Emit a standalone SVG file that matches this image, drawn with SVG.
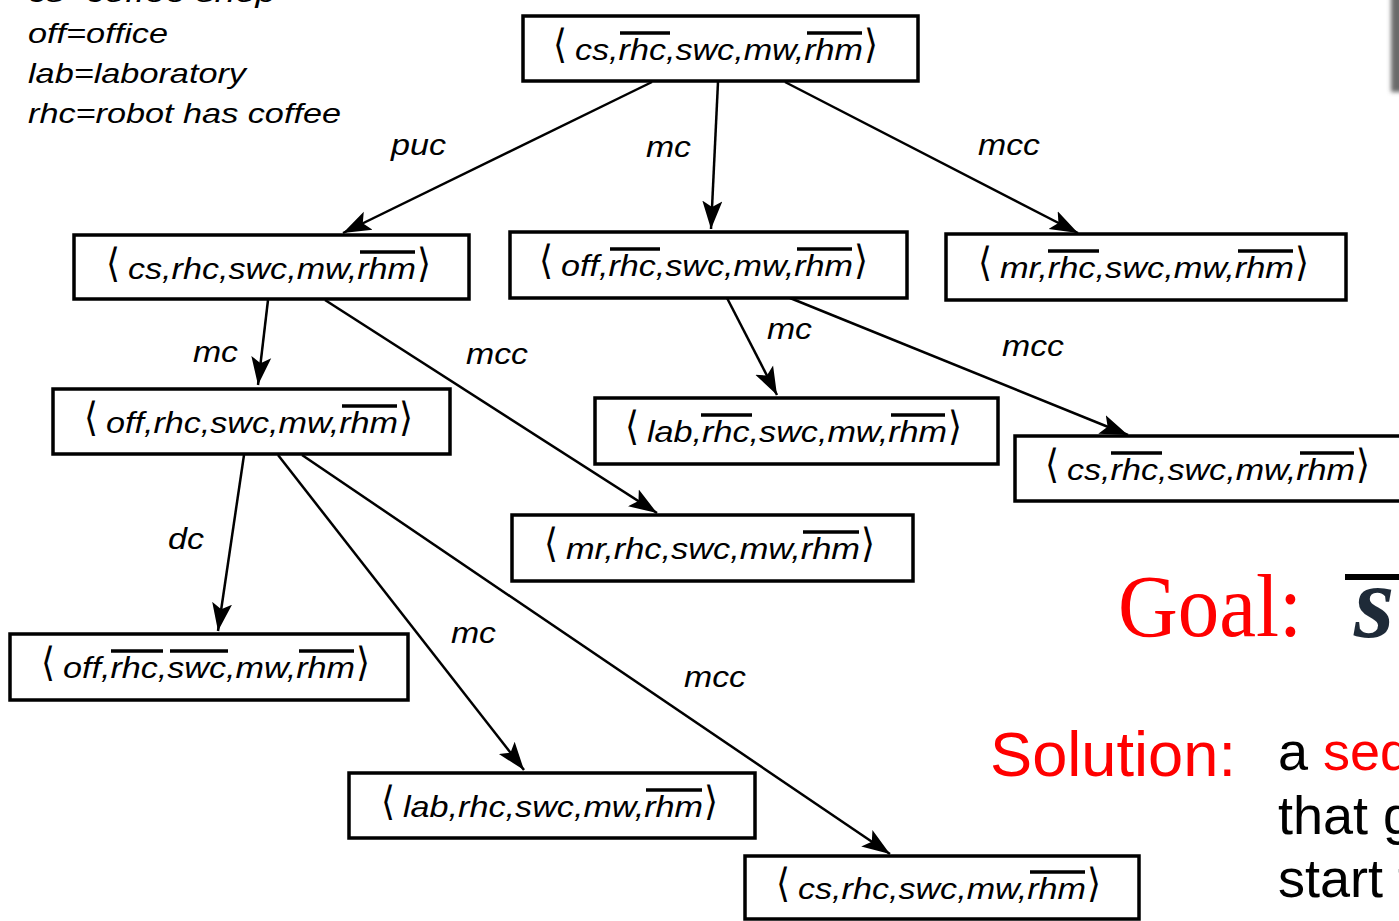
<svg xmlns="http://www.w3.org/2000/svg" width="1399" height="921" viewBox="0 0 1399 921">
  <style>
    .box { fill: #fff; stroke: #000; stroke-width: 3.5; }
    .st { font-family: "Liberation Sans", Arial, sans-serif; font-style: italic; font-size: 30px; fill: #000; }
    .br { font-family: "DejaVu Sans", sans-serif; font-size: 40px; fill: #000; }
    .bar { stroke: #000; stroke-width: 3.5; }
    .edge { stroke: #000; stroke-width: 2.5; fill: none; marker-end: url(#ah); }
    .act { font-family: "Liberation Sans", Arial, sans-serif; font-style: italic; font-size: 30px; fill: #000; }
    .key { font-family: "Liberation Sans", Arial, sans-serif; font-style: italic; font-size: 28px; fill: #000; }
    .note { font-family: "Liberation Sans", Arial, sans-serif; font-size: 54px; fill: #000; }
    .red { fill: #ff0000; }
  </style>
  <defs>
    <marker id="ah" markerUnits="userSpaceOnUse" markerWidth="28" markerHeight="22" refX="28" refY="11" orient="auto">
      <path d="M0,1 L28,11 L0,21 L6,11 z" fill="#000"/>
    </marker>
    <filter id="soft" x="-50%" y="-20%" width="200%" height="140%">
      <feGaussianBlur stdDeviation="2"/>
    </filter>
  </defs>

  <rect width="1399" height="921" fill="#fff"/>

  <!-- abbreviations -->
  <g id="legend">
    <text class="key" x="28" y="2" textLength="248" lengthAdjust="spacingAndGlyphs">cs=coffee shop</text>
    <text class="key" x="28" y="43" textLength="140" lengthAdjust="spacingAndGlyphs">off=office</text>
    <text class="key" x="28" y="83" textLength="218" lengthAdjust="spacingAndGlyphs">lab=laboratory</text>
    <text class="key" x="28" y="123" textLength="313" lengthAdjust="spacingAndGlyphs">rhc=robot has coffee</text>
  </g>

  <!-- search tree edges -->
  <g id="connectors">
    <line class="edge" x1="652" y1="82" x2="343" y2="233"/>
    <line class="edge" x1="718" y1="82" x2="711" y2="229"/>
    <line class="edge" x1="785" y1="82" x2="1078" y2="233"/>
    <line class="edge" x1="268" y1="300" x2="258" y2="385"/>
    <line class="edge" x1="325" y1="300" x2="657" y2="513"/>
    <line class="edge" x1="727" y1="298" x2="777" y2="395"/>
    <line class="edge" x1="790" y1="298" x2="1128" y2="435"/>
    <line class="edge" x1="244" y1="455" x2="218" y2="631"/>
    <line class="edge" x1="278" y1="455" x2="524" y2="770"/>
    <line class="edge" x1="302" y1="455" x2="890" y2="854"/>
    <text class="act" x="391" y="155" textLength="55" lengthAdjust="spacingAndGlyphs">puc</text>
    <text class="act" x="646" y="157" textLength="45" lengthAdjust="spacingAndGlyphs">mc</text>
    <text class="act" x="978" y="155" textLength="62" lengthAdjust="spacingAndGlyphs">mcc</text>
    <text class="act" x="193" y="362" textLength="45" lengthAdjust="spacingAndGlyphs">mc</text>
    <text class="act" x="466" y="364" textLength="62" lengthAdjust="spacingAndGlyphs">mcc</text>
    <text class="act" x="767" y="339" textLength="45" lengthAdjust="spacingAndGlyphs">mc</text>
    <text class="act" x="1002" y="356" textLength="62" lengthAdjust="spacingAndGlyphs">mcc</text>
    <text class="act" x="168" y="549" textLength="36" lengthAdjust="spacingAndGlyphs">dc</text>
    <text class="act" x="451" y="643" textLength="45" lengthAdjust="spacingAndGlyphs">mc</text>
    <text class="act" x="684" y="687" textLength="62" lengthAdjust="spacingAndGlyphs">mcc</text>
  </g>

  <!-- states -->
  <g id="s-root">
    <rect class="box" x="523" y="16" width="395" height="65"/>
    <text class="br" x="553" y="58" textLength="14" lengthAdjust="spacingAndGlyphs">⟨</text>
    <text class="st" x="575" y="60" textLength="288" lengthAdjust="spacingAndGlyphs">cs,rhc,swc,mw,rhm</text>
    <text class="br" x="864" y="58" textLength="14" lengthAdjust="spacingAndGlyphs">⟩</text>
    <line class="bar" x1="620" y1="33" x2="670" y2="33"/>
    <line class="bar" x1="807" y1="33" x2="862" y2="33"/>
  </g>

  <g id="s-cs-rhc">
    <rect class="box" x="74" y="235" width="395" height="64"/>
    <text class="br" x="106" y="277" textLength="14" lengthAdjust="spacingAndGlyphs">⟨</text>
    <text class="st" x="128" y="279" textLength="288" lengthAdjust="spacingAndGlyphs">cs,rhc,swc,mw,rhm</text>
    <text class="br" x="417" y="277" textLength="14" lengthAdjust="spacingAndGlyphs">⟩</text>
    <line class="bar" x1="360" y1="252" x2="415" y2="252"/>
  </g>

  <g id="s-off">
    <rect class="box" x="510" y="232" width="397" height="66"/>
    <text class="br" x="539" y="274" textLength="14" lengthAdjust="spacingAndGlyphs">⟨</text>
    <text class="st" x="561" y="276" textLength="292" lengthAdjust="spacingAndGlyphs">off,rhc,swc,mw,rhm</text>
    <text class="br" x="854" y="274" textLength="14" lengthAdjust="spacingAndGlyphs">⟩</text>
    <line class="bar" x1="610" y1="249" x2="660" y2="249"/>
    <line class="bar" x1="797" y1="249" x2="852" y2="249"/>
  </g>

  <g id="s-mr">
    <rect class="box" x="946" y="234" width="400" height="66"/>
    <text class="br" x="978" y="276" textLength="14" lengthAdjust="spacingAndGlyphs">⟨</text>
    <text class="st" x="1000" y="278" textLength="294" lengthAdjust="spacingAndGlyphs">mr,rhc,swc,mw,rhm</text>
    <text class="br" x="1295" y="276" textLength="14" lengthAdjust="spacingAndGlyphs">⟩</text>
    <line class="bar" x1="1048" y1="251" x2="1099" y2="251"/>
    <line class="bar" x1="1238" y1="251" x2="1293" y2="251"/>
  </g>

  <g id="s-off-rhc">
    <rect class="box" x="53" y="389" width="397" height="65"/>
    <text class="br" x="84" y="431" textLength="14" lengthAdjust="spacingAndGlyphs">⟨</text>
    <text class="st" x="106" y="433" textLength="292" lengthAdjust="spacingAndGlyphs">off,rhc,swc,mw,rhm</text>
    <text class="br" x="399" y="431" textLength="14" lengthAdjust="spacingAndGlyphs">⟩</text>
    <line class="bar" x1="342" y1="406" x2="397" y2="406"/>
  </g>

  <g id="s-lab">
    <rect class="box" x="595" y="398" width="403" height="66"/>
    <text class="br" x="625" y="440" textLength="14" lengthAdjust="spacingAndGlyphs">⟨</text>
    <text class="st" x="647" y="442" textLength="300" lengthAdjust="spacingAndGlyphs">lab,rhc,swc,mw,rhm</text>
    <text class="br" x="948" y="440" textLength="14" lengthAdjust="spacingAndGlyphs">⟩</text>
    <line class="bar" x1="701" y1="415" x2="752" y2="415"/>
    <line class="bar" x1="891" y1="415" x2="945" y2="415"/>
  </g>

  <g id="s-cs">
    <rect class="box" x="1015" y="436" width="400" height="65"/>
    <text class="br" x="1045" y="478" textLength="14" lengthAdjust="spacingAndGlyphs">⟨</text>
    <text class="st" x="1067" y="480" textLength="288" lengthAdjust="spacingAndGlyphs">cs,rhc,swc,mw,rhm</text>
    <text class="br" x="1356" y="478" textLength="14" lengthAdjust="spacingAndGlyphs">⟩</text>
    <line class="bar" x1="1111" y1="453" x2="1162" y2="453"/>
    <line class="bar" x1="1300" y1="453" x2="1354" y2="453"/>
  </g>

  <g id="s-mr-rhc">
    <rect class="box" x="512" y="515" width="401" height="66"/>
    <text class="br" x="544" y="557" textLength="14" lengthAdjust="spacingAndGlyphs">⟨</text>
    <text class="st" x="566" y="559" textLength="294" lengthAdjust="spacingAndGlyphs">mr,rhc,swc,mw,rhm</text>
    <text class="br" x="861" y="557" textLength="14" lengthAdjust="spacingAndGlyphs">⟩</text>
    <line class="bar" x1="803" y1="532" x2="859" y2="532"/>
  </g>

  <g id="s-off-dc">
    <rect class="box" x="10" y="634" width="398" height="66"/>
    <text class="br" x="41" y="676" textLength="14" lengthAdjust="spacingAndGlyphs">⟨</text>
    <text class="st" x="63" y="678" textLength="292" lengthAdjust="spacingAndGlyphs">off,rhc,swc,mw,rhm</text>
    <text class="br" x="356" y="676" textLength="14" lengthAdjust="spacingAndGlyphs">⟩</text>
    <line class="bar" x1="111" y1="651" x2="163" y2="651"/>
    <line class="bar" x1="170" y1="651" x2="228" y2="651"/>
    <line class="bar" x1="299" y1="651" x2="354" y2="651"/>
  </g>

  <g id="s-lab-rhc">
    <rect class="box" x="349" y="773" width="406" height="65"/>
    <text class="br" x="381" y="815" textLength="14" lengthAdjust="spacingAndGlyphs">⟨</text>
    <text class="st" x="403" y="817" textLength="300" lengthAdjust="spacingAndGlyphs">lab,rhc,swc,mw,rhm</text>
    <text class="br" x="704" y="815" textLength="14" lengthAdjust="spacingAndGlyphs">⟩</text>
    <line class="bar" x1="646" y1="790" x2="702" y2="790"/>
  </g>

  <g id="s-cs-rhc-2">
    <rect class="box" x="745" y="856" width="394" height="63"/>
    <text class="br" x="776" y="897" textLength="14" lengthAdjust="spacingAndGlyphs">⟨</text>
    <text class="st" x="798" y="899" textLength="288" lengthAdjust="spacingAndGlyphs">cs,rhc,swc,mw,rhm</text>
    <text class="br" x="1087" y="897" textLength="14" lengthAdjust="spacingAndGlyphs">⟩</text>
    <line class="bar" x1="1030" y1="872" x2="1085" y2="872"/>
  </g>

  <!-- goal and solution notes -->
  <g id="goal">
    <text x="1118" y="636" font-family="'Liberation Serif', 'Times New Roman', serif" font-size="88" fill="#ff0000" textLength="184" lengthAdjust="spacingAndGlyphs">Goal:</text>
    <line x1="1345" y1="577" x2="1399" y2="577" stroke="#000" stroke-width="6"/>
    <text x="1354" y="637" font-family="'Liberation Serif', 'Times New Roman', serif" font-style="italic" font-weight="bold" font-size="104" fill="#1e2a38">s</text>
  </g>

  <g id="solution">
    <text x="990" y="776" font-family="'Liberation Sans', Arial, sans-serif" font-size="63" fill="#ff0000" textLength="246" lengthAdjust="spacingAndGlyphs">Solution:</text>
    <text class="note" x="1278" y="770">a <tspan class="red">seq</tspan></text>
    <text class="note" x="1278" y="834">that g</text>
    <text class="note" x="1278" y="897">start t</text>
  </g>

  <!-- shaded page edge -->
  <rect x="1391" y="-10" width="16" height="102" fill="#6a6a6a" filter="url(#soft)"/>
</svg>
